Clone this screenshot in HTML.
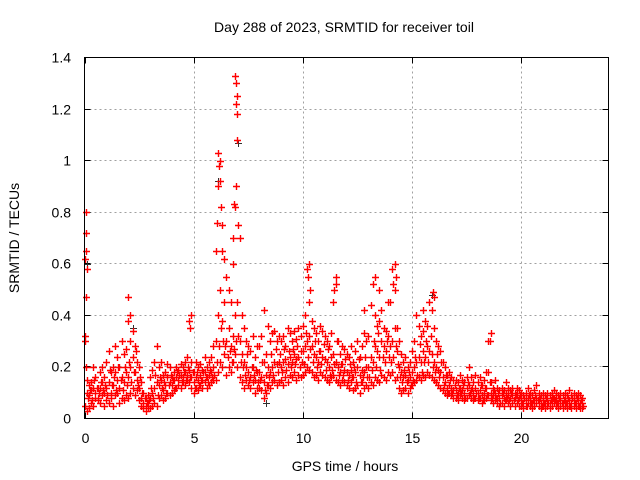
<!DOCTYPE html>
<html><head><meta charset="utf-8"><style>
html,body{margin:0;padding:0;background:#fff;}
svg{display:block;font-family:"Liberation Sans",sans-serif;}
</style></head><body>
<svg id="chart" width="640" height="480" viewBox="0 0 640 480" xmlns="http://www.w3.org/2000/svg">
<rect width="640" height="480" fill="#fff"/>
<text x="344" y="32" font-size="14" text-anchor="middle">Day 288 of 2023, SRMTID for receiver toil</text>
<text transform="translate(19,238) rotate(-90)" font-size="14" text-anchor="middle">SRMTID / TECUs</text>
<text x="345" y="471" font-size="14" text-anchor="middle">GPS time / hours</text>
<g id="grid"></g>
<g id="ticks"></g>
<g id="marks"></g>
<rect x="84.5" y="57.5" width="524" height="361" fill="none" stroke="#000" stroke-width="1"/>
</svg>
<script>
const xTicks = [0,5,10,15,20];
const yTicks = [0,0.2,0.4,0.6,0.8,1,1.2,1.4];
const yTickLabels = ["0","0.2","0.4","0.6","0.8","1","1.2","1.4"];
const redLo = [.05,.03,.04,.06,.05,.08,.07,.06,.09,.05,
.07,.06,.08,.05,.09,.10,.06,.08,.07,.09,
.08,.10,.12,.09,.11,.07,.05,.04,.03,.04,
.04,.05,.06,.05,.08,.09,.07,.08,.10,.09,
.10,.11,.12,.13,.12,.14,.13,.15,.14,.12,
.10,.12,.11,.13,.12,.14,.12,.13,.14,.15,
.15,.18,.22,.20,.25,.17,.20,.18,.22,.25,
.20,.16,.14,.12,.15,.13,.12,.14,.10,.12,
.12,.11,.08,.10,.13,.12,.14,.15,.13,.14,
.15,.13,.16,.14,.17,.16,.18,.15,.17,.16,
.17,.18,.20,.19,.18,.16,.17,.15,.18,.17,
.16,.15,.14,.16,.17,.15,.14,.13,.15,.14,
.13,.12,.14,.11,.12,.13,.10,.14,.12,.13,
.12,.14,.13,.16,.15,.14,.17,.16,.15,.18,
.17,.18,.15,.16,.12,.10,.11,.12,.10,.12,
.13,.14,.15,.16,.15,.17,.16,.18,.17,.16,
.15,.14,.13,.12,.11,.10,.09,.10,.09,.08,
.08,.07,.09,.08,.07,.08,.09,.08,.07,.08,
.07,.08,.06,.07,.08,.09,.07,.06,.07,.06,
.05,.06,.05,.07,.06,.05,.06,.05,.06,.05,
.05,.04,.05,.06,.05,.04,.05,.06,.05,.04,
.05,.04,.05,.04,.05,.06,.05,.04,.05,.04,
.05,.04,.05,.04,.05,.04,.05,.04,.04];
const redMid = [.30,.10,.09,.11,.12,.10,.08,.12,.14,.10,
.12,.14,.10,.13,.18,.15,.12,.16,.14,.18,
.16,.20,.24,.18,.15,.12,.08,.06,.05,.06,
.08,.10,.12,.14,.13,.15,.11,.13,.16,.14,
.13,.15,.16,.15,.17,.16,.18,.17,.19,.16,
.14,.16,.15,.17,.15,.18,.16,.17,.18,.20,
.30,.40,.50,.38,.45,.30,.35,.28,.32,.40,
.45,.30,.25,.22,.20,.18,.16,.20,.15,.18,
.18,.16,.14,.17,.20,.18,.20,.22,.21,.22,
.20,.22,.23,.21,.24,.22,.25,.23,.24,.26,
.26,.28,.30,.32,.28,.25,.24,.22,.26,.24,
.23,.22,.20,.24,.25,.22,.20,.18,.21,.19,
.18,.17,.19,.16,.18,.20,.17,.19,.18,.20,
.20,.24,.22,.28,.26,.24,.30,.28,.26,.32,
.28,.30,.35,.26,.20,.18,.16,.17,.15,.16,
.18,.20,.22,.24,.22,.26,.24,.28,.26,.25,
.22,.20,.19,.18,.16,.14,.12,.13,.12,.11,
.11,.10,.12,.11,.10,.12,.13,.11,.10,.12,
.10,.11,.09,.10,.12,.18,.10,.09,.10,.08,
.08,.09,.08,.10,.09,.08,.09,.08,.09,.08,
.07,.06,.07,.08,.07,.06,.07,.08,.07,.06,
.07,.06,.07,.06,.07,.08,.07,.06,.07,.06,
.07,.06,.07,.06,.07,.06,.07,.06,.06];
const redHi = [.62,.15,.13,.14,.20,.16,.12,.18,.20,.16,
.22,.26,.18,.20,.28,.24,.20,.30,.25,.27,
.38,.30,.34,.28,.22,.20,.14,.10,.08,.09,
.16,.19,.22,.28,.20,.22,.17,.18,.21,.20,
.16,.18,.20,.19,.21,.20,.22,.24,.38,.22,
.18,.22,.20,.21,.19,.24,.20,.22,.24,.28,
.65,.90,1.0,.75,.62,.55,.50,.45,.60,.82,
1.25,.70,.40,.35,.30,.28,.26,.32,.24,.28,
.28,.32,.22,.25,.36,.30,.33,.34,.30,.32,
.30,.32,.28,.35,.33,.30,.34,.31,.35,.32,
.36,.40,.58,.45,.38,.35,.33,.30,.36,.34,
.32,.30,.28,.33,.45,.52,.30,.25,.28,.27,
.25,.24,.28,.22,.26,.30,.24,.28,.33,.30,
.32,.44,.52,.40,.36,.38,.42,.35,.34,.45,
.45,.58,.50,.35,.30,.25,.22,.24,.20,.22,
.26,.30,.40,.36,.32,.34,.38,.36,.45,.42,
.35,.30,.28,.26,.22,.20,.17,.18,.16,.15,
.15,.14,.17,.15,.14,.16,.20,.16,.14,.17,
.14,.16,.13,.15,.18,.30,.14,.12,.15,.12,
.11,.12,.11,.14,.12,.11,.12,.10,.12,.11,
.10,.09,.10,.12,.10,.09,.11,.13,.10,.09,
.10,.09,.10,.09,.10,.11,.10,.09,.10,.09,
.10,.09,.11,.09,.10,.09,.10,.09,.08];
const redHalf = [.20,.08,.11,.07,.15,.12,.10,.14,.11,.13,
.09,.19,.13,.16,.11,.20,.15,.11,.20,.13,
.22,.14,.18,.26,.13,.16,.10,.08,.06,.07,
.12,.08,.17,.09,.16,.12,.14,.10,.13,.17,
.15,.12,.18,.17,.14,.18,.15,.20,.16,.18,
.12,.18,.13,.15,.18,.16,.14,.19,.16,.17,
.22,.28,.35,.30,.28,.24,.26,.22,.27,.30,
.32,.22,.20,.17,.25,.15,.20,.17,.19,.14,
.15,.22,.11,.13,.16,.25,.17,.27,.18,.25,
.18,.27,.19,.26,.20,.27,.21,.28,.20,.22,
.21,.33,.24,.27,.22,.30,.20,.26,.21,.29,
.19,.27,.17,.19,.21,.30,.17,.21,.17,.23,
.15,.21,.16,.20,.14,.23,.14,.16,.24,.16,
.16,.19,.30,.20,.33,.19,.24,.22,.30,.24,
.22,.24,.28,.21,.16,.14,.19,.14,.18,.13,
.15,.24,.17,.29,.18,.22,.30,.22,.32,.20,
.18,.25,.16,.22,.13,.17,.10,.15,.10,.13,
.09,.12,.10,.13,.08,.14,.10,.12,.08,.10,
.08,.13,.07,.12,.09,.14,.08,.11,.08,.10,
.06,.10,.07,.08,.07,.10,.07,.09,.07,.09,
.06,.08,.05,.09,.06,.07,.09,.07,.08,.05,
.06,.08,.06,.07,.08,.07,.06,.08,.06,.07,
.06,.08,.05,.08,.06,.08,.05,.07,.05];
const spikeT = [0.05,0.05,0.08,0.06,0.02,0.1,2.0,2.1,4.9,4.85,6.1,6.15,6.2,6.25,6.05,6.3,6.9,6.95,6.92,7.0,6.97,6.93,6.85,7.05,6.8,8.2,10.3,10.25,10.35,11.5,11.45,13.3,13.5,14.2,14.25,14.15,13.9,15.5,15.95,16.0,18.6,18.55,12.8];
const spikeV = [0.8,0.72,0.65,0.47,0.32,0.58,0.47,0.4,0.4,0.35,1.03,0.98,0.92,0.82,0.76,0.65,1.33,1.3,1.22,1.18,1.08,0.9,0.83,0.75,0.7,0.42,0.6,0.55,0.5,0.55,0.5,0.55,0.5,0.6,0.55,0.52,0.45,0.42,0.49,0.47,0.33,0.3,0.42];
const blackT = [0.1,6.12,7.02,8.3,15.92,2.2];
const blackV = [0.6,0.92,1.07,0.06,0.48,0.35];

const X0=84.5, X1=608.5, Y0=418.5, Y1=57.5;
const xs = t => X0 + t/24*(X1-X0);
const ys = v => Y0 - v/1.4*(Y0-Y1);
const NS='http://www.w3.org/2000/svg';
const grid=document.getElementById('grid'), ticks=document.getElementById('ticks'), marks=document.getElementById('marks');
function ln(p,x1,y1,x2,y2,st,dash){const l=document.createElementNS(NS,'line');l.setAttribute('x1',x1);l.setAttribute('y1',y1);l.setAttribute('x2',x2);l.setAttribute('y2',y2);l.setAttribute('stroke',st);if(dash)l.setAttribute('stroke-dasharray',dash);p.appendChild(l);return l;}
xTicks.forEach(t=>{const x=Math.round(xs(t))+0.5;
 if(t>0){const g=ln(grid,x,Y0,x,Y1,'#a0a0a0','2,3');
 
 }
 ln(ticks,x,Y0,x,Y0-6,'#000');ln(ticks,x,Y1,x,Y1+6,'#000');
 const tx=document.createElementNS(NS,'text');tx.setAttribute('x',x);tx.setAttribute('y',443);tx.setAttribute('font-size','14');tx.setAttribute('text-anchor','middle');tx.textContent=String(t);
 
 
 ticks.appendChild(tx);});
yTicks.forEach((v,i)=>{const y=Math.round(ys(v)-0.5)+0.5;
 if(v>0&&v<1.4){const g=ln(grid,X0,y,X1,y,'#a0a0a0','2,3');
 
 }
 ln(ticks,X0,y,X0+6,y,'#000');ln(ticks,X1,y,X1-6,y,'#000');
 const tx=document.createElementNS(NS,'text');tx.setAttribute('x',71);tx.setAttribute('y',y+5);tx.setAttribute('font-size','14');tx.setAttribute('text-anchor','end');tx.textContent=yTickLabels[i];
 
 
 ticks.appendChild(tx);});
let d={black:'',red:''};
function plus(k,t,v){const x=Math.round(xs(t))+0.5,y=Math.round(ys(v))+0.5;d[k]+=`M${x-3.5} ${y}h7M${x} ${y-3.5}v7`;}
blackT.forEach((t,i)=>plus('black',t,blackV[i]));
[redLo,redMid,redHi].forEach(arr=>arr.forEach((v,i)=>{plus('red',i*0.1,v);}));
redHalf.forEach((v,i)=>plus('red',i*0.1+0.05,v));
spikeT.forEach((t,i)=>plus('red',t,spikeV[i]));
const pb=document.createElementNS(NS,'path');pb.setAttribute('d',d.black);pb.setAttribute('stroke','#303030');pb.setAttribute('fill','none');


marks.appendChild(pb);
const pr=document.createElementNS(NS,'path');pr.setAttribute('d',d.red);pr.setAttribute('stroke','#ff0000');pr.setAttribute('stroke-width','1.4');pr.setAttribute('fill','none');


marks.appendChild(pr);
</script>
</body></html>
